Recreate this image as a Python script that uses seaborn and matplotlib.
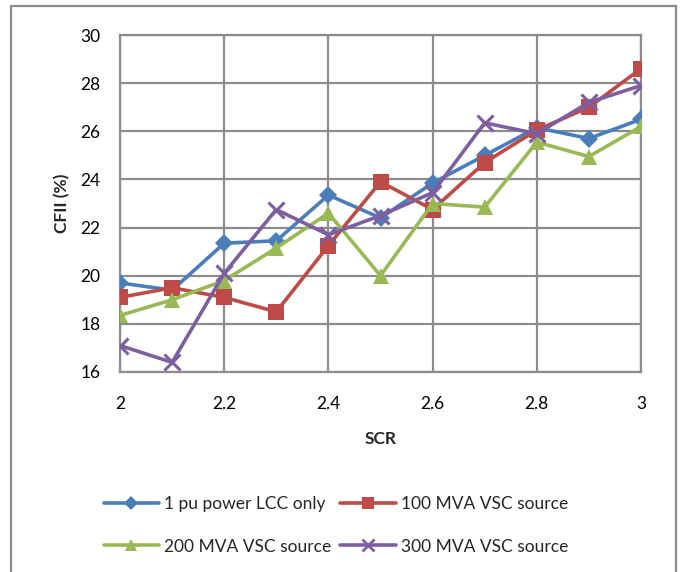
import matplotlib
matplotlib.use("Agg")
import matplotlib.pyplot as plt
import seaborn as sns
import pandas as pd
from matplotlib.patches import Rectangle
from matplotlib.lines import Line2D

scr = [2.0, 2.1, 2.2, 2.3, 2.4, 2.5, 2.6, 2.7, 2.8, 2.9, 3.0]
lcc_only = [19.7, 19.4, 21.35, 21.45, 23.35, 22.4, 23.85, 25.0, 26.15, 25.7, 26.5]
vsc_100 = [19.1, 19.5, 19.1, 18.5, 21.25, 23.9, 22.75, 24.7, 26.05, 27.0, 28.6]
vsc_200 = [18.35, 19.0, 19.8, 21.15, 22.6, 20.0, 23.0, 22.85, 25.55, 24.95, 26.2]
vsc_300 = [17.1, 16.4, 20.1, 22.75, 21.7, 22.5, 23.45, 26.35, 25.9, 27.2, 27.9]

series_names = ["1 pu power LCC only", "100 MVA VSC source",
                "200 MVA VSC source", "300 MVA VSC source"]
series_values = [lcc_only, vsc_100, vsc_200, vsc_300]
colors = ["#4A7EBB", "#BE4B48", "#98B954", "#7D5FA0"]
markers = ["D", "s", "^", "x"]
marker_sizes = [9, 11, 11, 11]

sns.set_theme(style="white")
plt.rcParams["font.family"] = ["Lato", "DejaVu Sans"]

fig = plt.figure(figsize=(6.8, 5.72), dpi=100)
ax = fig.add_axes([120 / 680, 1 - 372 / 572, (641 - 120) / 680, (372 - 35) / 572])

for name, vals, col, mk, ms in zip(series_names, series_values, colors, markers, marker_sizes):
    sub = pd.DataFrame({"SCR": scr, "CFII": vals})
    sns.lineplot(data=sub, x="SCR", y="CFII", color=col, marker=mk,
                 markersize=ms, linewidth=2.6,
                 markeredgewidth=(2.2 if mk == "x" else 0),
                 markeredgecolor=col, ax=ax, zorder=3)

grid_color = "#8C8C8C"
ax.set_xlim(2, 3)
ax.set_ylim(16, 30)
ax.set_xticks([2, 2.2, 2.4, 2.6, 2.8, 3])
ax.set_xticklabels(["2", "2.2", "2.4", "2.6", "2.8", "3"])
ax.set_yticks(range(16, 31, 2))
ax.grid(True, color=grid_color, linewidth=1.6)
ax.set_axisbelow(True)
for sp in ax.spines.values():
    sp.set_visible(True)
    sp.set_color(grid_color)
    sp.set_linewidth(1.6)
ax.tick_params(axis="both", length=0, labelsize=12.5, colors="black")
ax.tick_params(axis="x", pad=17)
ax.tick_params(axis="y", pad=14)
ax.set_xlabel("SCR", fontsize=12.5, fontweight="bold", labelpad=14)
ax.set_ylabel("CFII (%)", fontsize=12.5, fontweight="bold", labelpad=7)

# legend: two rows, two columns
handles = [Line2D([], [], color=c, marker=m, markersize=ms * 0.8, linewidth=2.6,
                  markeredgewidth=(2 if m == "x" else 0), markeredgecolor=c)
           for c, m, ms in zip(colors, markers, marker_sizes)]
order = [0, 2, 1, 3]
fig.legend([handles[i] for i in order], [series_names[i] for i in order],
           ncol=2, frameon=False, loc="upper left",
           bbox_to_anchor=(88 / 680, 1 - 480 / 572),
           fontsize=12.5, handlelength=3.2, handletextpad=0.3,
           columnspacing=0.5, labelspacing=1.55)

# outer chart border
fig.patches.append(Rectangle((11 / 680, -0.05), (676 - 11) / 680, 1.05 - 6 / 572,
                             transform=fig.transFigure, fill=False,
                             edgecolor=grid_color, linewidth=1.6))

fig.savefig("out.png", dpi=100, facecolor="white")
